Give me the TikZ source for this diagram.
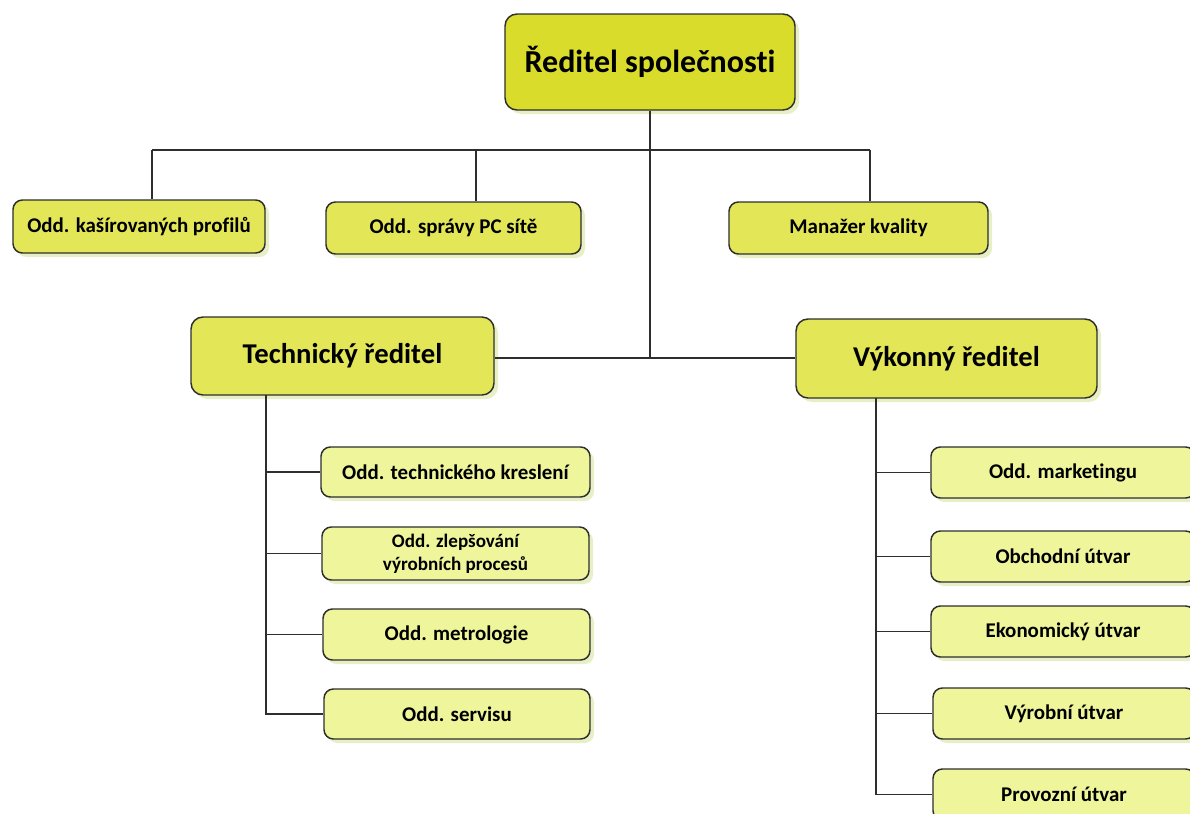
\documentclass[tikz,border=0pt]{standalone}
\usepackage{fontspec}
\setmainfont{Carlito}[Ligatures=NoCommon]
\usetikzlibrary{shadows}
\definecolor{topc}{HTML}{D9DC2A}
\definecolor{midc}{HTML}{E3E657}
\definecolor{leafc}{HTML}{EEF59A}
\definecolor{edgec}{HTML}{2E2E2E}
\definecolor{shadc}{HTML}{E4EDC0}
\tikzset{
  box/.style={draw=edgec, line width=1.1pt, rounded corners=7pt, align=center,
    font=\bfseries, inner sep=0pt,
    drop shadow={fill=shadc, shadow xshift=3pt, shadow yshift=-3pt, opacity=0.9}},
  topbox/.style={box, fill=topc, rounded corners=9pt, font=\bfseries\fontsize{24}{28}\selectfont},
  bigbox/.style={box, fill=midc, rounded corners=9pt, font=\bfseries\fontsize{21.5}{25}\selectfont},
  midbox/.style={box, fill=midc, font=\bfseries\fontsize{15.7}{18}\selectfont},
  leafbox/.style={box, fill=leafc, font=\bfseries\fontsize{15.7}{18}\selectfont},
  conn/.style={draw=edgec, line width=0.9pt},
}
\begin{document}
\begin{tikzpicture}[x=0.75pt,y=-0.75pt]
\useasboundingbox (0,0) rectangle (1190,814);
\clip (0,0) rectangle (1190,814);
% nodes
\node[topbox, minimum width=290*0.75pt, minimum height=96*0.75pt] (top) at (650,62) {Ředitel společnosti};
\node[midbox, minimum width=252*0.75pt, minimum height=53*0.75pt] (k1) at (139,226.5) {Odd. kašírovaných profilů};
\node[midbox, minimum width=255*0.75pt, minimum height=52*0.75pt] (k2) at (453.5,228) {Odd. správy PC sítě};
\node[midbox, minimum width=259*0.75pt, minimum height=52*0.75pt] (k3) at (858.5,228) {Manažer kvality};
\node[bigbox, minimum width=303*0.75pt, minimum height=78*0.75pt] (tech) at (342.5,356) {Technický ředitel};
\node[bigbox, minimum width=301*0.75pt, minimum height=79*0.75pt] (vyk) at (946.5,358.5) {Výkonný ředitel};
% left leaves
\node[leafbox, minimum width=269*0.75pt, minimum height=50*0.75pt] (l1) at (455.5,472) {Odd. technického kreslení};
\node[leafbox, minimum width=267*0.75pt, minimum height=53*0.75pt, font=\bfseries\fontsize{14.3}{17}\selectfont] (l2) at (455.5,553.5) {Odd. zlepšování\\výrobních procesů};
\node[leafbox, minimum width=267*0.75pt, minimum height=51*0.75pt] (l3) at (456.5,634.5) {Odd. metrologie};
\node[leafbox, minimum width=266*0.75pt, minimum height=50*0.75pt] (l4) at (457,714) {Odd. servisu};
% right leaves
\node[leafbox, minimum width=264*0.75pt, minimum height=51*0.75pt] (r1) at (1063,472.5) {Odd. marketingu};
\node[leafbox, minimum width=264*0.75pt, minimum height=51*0.75pt] (r2) at (1063,556.5) {Obchodní útvar};
\node[leafbox, minimum width=264*0.75pt, minimum height=51*0.75pt] (r3) at (1063,631.5) {Ekonomický útvar};
\node[leafbox, minimum width=262*0.75pt, minimum height=51*0.75pt] (r4) at (1064,713.5) {Výrobní útvar};
\node[leafbox, minimum width=262*0.75pt, minimum height=51*0.75pt] (r5) at (1064,794.5) {Provozní útvar};
% connectors
\coordinate (bus) at (650,150);
\coordinate (mid) at (650,358);
\coordinate (d1) at (152,150);
\coordinate (d2) at (476,150);
\coordinate (d3) at (870,150);
\draw[conn] (top.south) -- (mid);
\draw[conn] (d1) -- (d3);
\draw[conn] (d1) -- (d1 |- k1.north);
\draw[conn] (d2) -- (d2 |- k2.north);
\draw[conn] (d3) -- (d3 |- k3.north);
\draw[conn] (tech.east |- mid) -- (vyk.west |- mid);
% left tree
\coordinate (lv) at (266,395);
\draw[conn] (lv) -- (lv |- l4.west) -- (l4.west);
\draw[conn] (lv |- l1.west) -- (l1.west);
\draw[conn] (lv |- l2.west) -- (l2.west);
\draw[conn] (lv |- l3.west) -- (l3.west);
% right tree
\coordinate (rv) at (876,398);
\draw[conn] (rv) -- (rv |- r5.west) -- (r5.west);
\draw[conn] (rv |- r1.west) -- (r1.west);
\draw[conn] (rv |- r2.west) -- (r2.west);
\draw[conn] (rv |- r3.west) -- (r3.west);
\draw[conn] (rv |- r4.west) -- (r4.west);
\end{tikzpicture}
\end{document}
